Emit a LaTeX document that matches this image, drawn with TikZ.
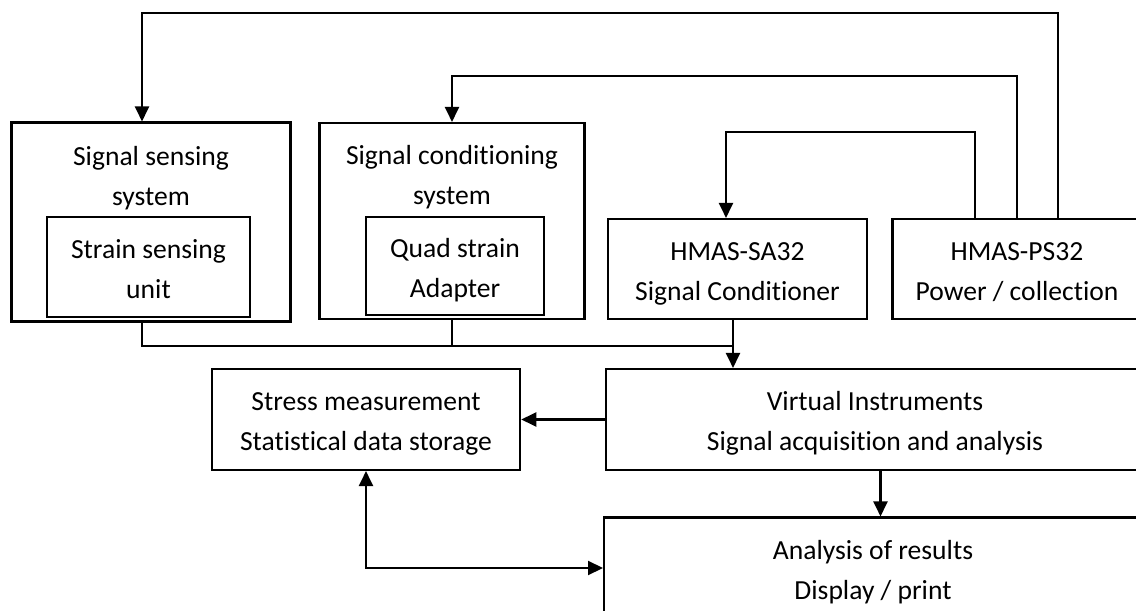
\documentclass[tikz,border=0pt]{standalone}
\usepackage{fontspec}
\setmainfont{Carlito}[Ligatures=NoCommon]
\usepackage{tikz}
\usetikzlibrary{arrows.meta,positioning}

\begin{document}
\begin{tikzpicture}[x=0.02cm, y=-0.02cm,
    every node/.style={font=\fontsize{15.7}{22.8}\selectfont, align=center,
        text height=40.8pt, text depth=5pt},
    block/.style={draw, line width=1.2pt, inner sep=0pt},
    title/.style={inner sep=0pt},
    wire/.style={line width=1.2pt},
    link/.style={wire, -{Triangle[length=0.3cm, width=0.28cm]}},
    duplex/.style={wire, {Triangle[length=0.3cm, width=0.28cm]}-{Triangle[length=0.3cm, width=0.28cm]}}
]
    \useasboundingbox (0,0) rectangle (1136,611);
    \clip (0,0) rectangle (1136,611);
    \node[block, minimum width=5.58cm, minimum height=3.98cm] (sense) at (151,222) {};
    \node[title, below=0.24cm of sense.north] (senseT) {Signal sensing\\system};
    \node[block, minimum width=4.06cm, minimum height=2.0cm] (senseIn) at (148.5,267) {Strain sensing\\unit};
    \node[block, minimum width=5.3cm, minimum height=3.92cm] (cond) at (452,221) {};
    \node[title, below=0.22cm of cond.north] (condT) {Signal conditioning\\system};
    \node[block, minimum width=3.57cm, minimum height=1.96cm] (condIn) at (455,266) {Quad strain\\Adapter};
    \node[block, minimum width=5.18cm, minimum height=2.0cm] (sa) at (737.5,269) {HMAS-SA32\\Signal Conditioner};
    \node[block, minimum width=4.98cm, minimum height=2.0cm] (ps) at (1017,269) {HMAS-PS32\\Power / collection};
    \node[block, minimum width=6.17cm, minimum height=2.02cm] (stress) at (366,419.5) {Stress measurement\\Statistical data storage};
    \node[block, minimum width=10.76cm, minimum height=2.02cm] (virt) at (875,419.5) {Virtual Instruments\\Signal acquisition and analysis};
    \node[block, minimum width=10.76cm, minimum height=2.02cm] (res) at (873,568) {Analysis of results\\Display / print};
    \coordinate (bus) at (733,346);
    \draw[link] ([xshift=0.82cm]ps.north) -- ++(0,-205) -| ([xshift=-0.18cm]sense.north);
    \draw[link] (ps.north) -- ++(0,-142.3) -| (cond.north);
    \draw[link] ([xshift=-0.84cm]ps.north) -- ++(0,-86) -| ([xshift=-0.23cm]sa.north);
    \draw[wire] ([xshift=-0.18cm]sense.south) |- (bus);
    \draw[wire] (cond.south) -- (cond.south |- bus);
    \draw[link] ([xshift=-0.09cm]sa.south) -- ([xshift=-0.09cm]sa.south |- virt.north);
    \draw[link] (virt.west) -- (virt.west -| stress.east);
    \draw[link] ([xshift=0.11cm]virt.south) -- ([xshift=0.11cm]virt.south |- res.north);
    \draw[duplex] (stress.south) |- (res.west);
\end{tikzpicture}
\end{document}
